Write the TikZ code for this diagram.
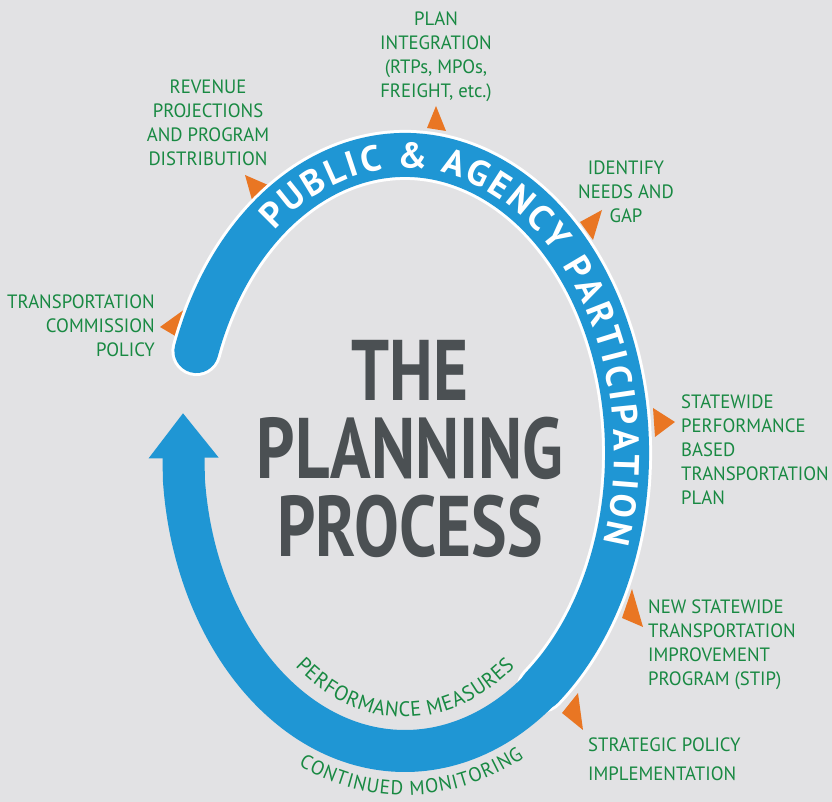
\documentclass[tikz,border=0pt]{standalone}
\usepackage{fontspec}
\usepackage{tikz}
\usetikzlibrary{arrows.meta,decorations.text}
\newfontfamily\lblfont[FakeStretch=0.97]{PT Sans}
\newfontfamily\ttlfont[FakeStretch=0.78]{PT Sans}
\newfontfamily\bandfont{PT Sans}
\definecolor{bgray}{RGB}{226,226,228}
\definecolor{pblue}{RGB}{31,150,212}
\definecolor{lgreen}{RGB}{24,137,66}
\definecolor{porange}{RGB}{233,118,35}
\definecolor{tgray}{RGB}{75,80,83}

\begin{document}
\begin{tikzpicture}[x=1pt,y=1pt,
  lbl/.style={text=lgreen, font=\lblfont\fontsize{19.3}{24}\selectfont, inner sep=0pt},
  tri/.style={fill=porange}]

\fill[bgray] (0,0) rectangle (832,802);
\useasboundingbox (0,0) rectangle (832,802);
\coordinate (ctr) at (405,349);

% orange markers
\fill[tri] (160,475) -- (185,493) -- (177,465) -- cycle;
\fill[tri] (245,627) -- (268,617) -- (252,602) -- cycle;
\fill[tri] (436,696) -- (427,674) -- (446,671) -- cycle;
\fill[tri] (602,592) -- (580,580) -- (593,562) -- cycle;
\fill[tri] (675,380) -- (653,394) -- (655,365) -- cycle;
\fill[tri] (643,175) -- (632,213) -- (622,184) -- cycle;
\fill[tri] (583,72) -- (578,109) -- (562,89) -- cycle;

% upper band
\draw[white, line width=50pt, line cap=round] (ctr) ++(160:222pt and 298pt)
  arc[start angle=160, end angle=-52, x radius=222pt, y radius=298pt];
\draw[pblue, line width=44pt, line cap=round] (ctr) ++(160:222pt and 298pt)
  arc[start angle=160, end angle=-52, x radius=222pt, y radius=298pt];

% lower arrow
\draw[pblue, line width=42pt, -{Triangle[width=67pt,length=45pt]}] (ctr) ++(-40:222pt and 298pt)
  arc[start angle=-40, end angle=-175, x radius=222pt, y radius=298pt] -- (183,389);

\path[decorate, decoration={text along path, text color=white, text align={fit to path}, raise=-13pt,
  text={|\bandfont\bfseries\fontsize{36}{36}\selectfont|PUBLIC {\&} AGENCY PARTICIPATION}}]
  (ctr) ++(129:222pt and 298pt) arc[start angle=129, end angle=-18, x radius=222pt, y radius=298pt];
\path[decorate, decoration={text along path, text color=lgreen, text align={fit to path},
  text={|\lblfont\fontsize{21}{21}\selectfont|PERFORMANCE MEASURES}}]
  (ctr) ++(-126:187pt and 264pt) arc[start angle=-126, end angle=-54, x radius=187pt, y radius=264pt];
\path[decorate, decoration={text along path, text color=lgreen, text align={fit to path},
  text={|\lblfont\fontsize{20}{20}\selectfont|CONTINUED MONITORING}}]
  (ctr) ++(-114:262pt and 342pt) arc[start angle=-114, end angle=-63, x radius=262pt, y radius=342pt];

\node[font=\ttlfont\bfseries\fontsize{86}{78}\selectfont, text=tgray, align=center, inner sep=0pt, anchor=north]
  (title) at (410,462) {THE\\PLANNING\\PROCESS};

\node[lbl, align=center, anchor=north] (revenue) at (208,722) {REVENUE\\PROJECTIONS\\AND PROGRAM\\DISTRIBUTION};
\node[lbl, align=center, anchor=north] (integr) at (436,790) {PLAN\\INTEGRATION\\(RTPs, MPOs,\\FREIGHT, etc.)};
\node[lbl, align=center, anchor=north] (needs) at (626,641) {IDENTIFY\\NEEDS AND\\GAP};
\node[lbl, align=right, anchor=north east] (commis) at (155,507) {TRANSPORTATION\\COMMISSION\\POLICY};
\node[lbl, align=left, anchor=north west] (swplan) at (681,407) {STATEWIDE\\PERFORMANCE\\BASED\\TRANSPORTATION\\PLAN};
\node[lbl, align=left, anchor=north west] (stip) at (648,202) {NEW STATEWIDE\\TRANSPORTATION\\IMPROVEMENT\\PROGRAM (STIP)};
\node[lbl, align=left, anchor=north west] (strat) at (588,64) {STRATEGIC POLICY\\[5pt]IMPLEMENTATION};

\end{tikzpicture}
\end{document}
